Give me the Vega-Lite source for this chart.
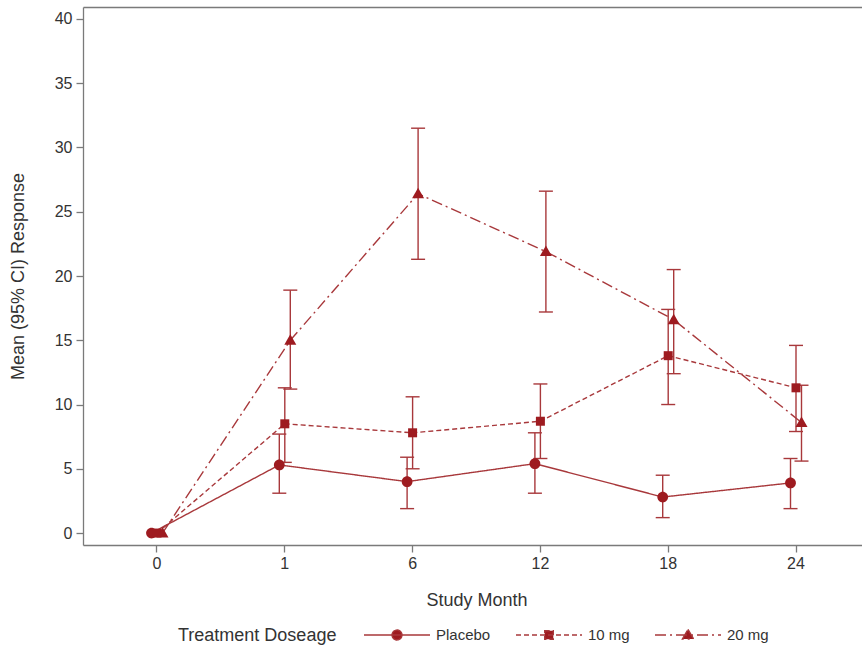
{
  "$schema": "https://vega.github.io/schema/vega-lite/v6.json",
  "width": 779,
  "height": 538,
  "autosize": "none",
  "padding": {"left": 83, "top": 7, "right": 0, "bottom": 102},
  "background": "white",
  "config": {
    "view": {"stroke": null},
    "font": "Liberation Sans",
    "axis": {
      "domainColor": "#7a7a7a",
      "domainWidth": 1.3,
      "tickColor": "#7a7a7a",
      "tickWidth": 1.3,
      "tickSize": 7,
      "labelFontSize": 16,
      "labelColor": "#333333",
      "titleFontSize": 18,
      "titleFontWeight": "normal",
      "titleColor": "#333333",
      "grid": false
    }
  },
  "data": {
    "values": [
      {"month": 0, "group": "Placebo", "mean": 0, "lo": null, "hi": null},
      {"month": 1, "group": "Placebo", "mean": 5.3, "lo": 3.1, "hi": 7.7},
      {"month": 6, "group": "Placebo", "mean": 4.0, "lo": 1.9, "hi": 5.9},
      {"month": 12, "group": "Placebo", "mean": 5.4, "lo": 3.1, "hi": 7.8},
      {"month": 18, "group": "Placebo", "mean": 2.8, "lo": 1.2, "hi": 4.5},
      {"month": 24, "group": "Placebo", "mean": 3.9, "lo": 1.9, "hi": 5.8},
      {"month": 0, "group": "10 mg", "mean": 0, "lo": null, "hi": null},
      {"month": 1, "group": "10 mg", "mean": 8.5, "lo": 5.5, "hi": 11.3},
      {"month": 6, "group": "10 mg", "mean": 7.8, "lo": 5.0, "hi": 10.6},
      {"month": 12, "group": "10 mg", "mean": 8.7, "lo": 5.8, "hi": 11.6},
      {"month": 18, "group": "10 mg", "mean": 13.8, "lo": 10.0, "hi": 17.4},
      {"month": 24, "group": "10 mg", "mean": 11.3, "lo": 7.9, "hi": 14.6},
      {"month": 0, "group": "20 mg", "mean": 0, "lo": null, "hi": null},
      {"month": 1, "group": "20 mg", "mean": 15.0, "lo": 11.2, "hi": 18.9},
      {"month": 6, "group": "20 mg", "mean": 26.4, "lo": 21.3, "hi": 31.5},
      {"month": 12, "group": "20 mg", "mean": 21.9, "lo": 17.2, "hi": 26.6},
      {"month": 18, "group": "20 mg", "mean": 16.6, "lo": 12.4, "hi": 20.5},
      {"month": 24, "group": "20 mg", "mean": 8.6, "lo": 5.6, "hi": 11.5}
    ]
  },
  "layer": [
    {
      "mark": {"type": "line", "strokeWidth": 1.4, "color": "#a8383b"},
      "encoding": {
        "x": {
          "field": "month", "type": "ordinal", "sort": [0, 1, 6, 12, 18, 24],
          "scale": {"type": "band", "range": [0, 787], "paddingInner": 0.914, "paddingOuter": 0.536},
          "axis": {"title": "Study Month", "labelAngle": 0, "labelPadding": 3, "titlePadding": 20}
        },
        "xOffset": {"field": "group", "type": "nominal", "scale": {"type": "point", "padding": 0, "domain": ["Placebo", "10 mg", "20 mg"]}},
        "y": {
          "field": "mean", "type": "quantitative",
          "scale": {"domain": [-0.93, 40.93], "nice": false, "zero": false},
          "axis": {"title": "Mean (95% CI) Response", "values": [0, 5, 10, 15, 20, 25, 30, 35, 40], "labelPadding": 4, "titlePadding": 27}
        },
        "strokeDash": {
          "field": "group", "type": "nominal",
          "scale": {"domain": ["Placebo", "10 mg", "20 mg"], "range": [[1, 0], [5, 3], [11, 4, 2, 4]]},
          "legend": {
            "orient": "none", "legendX": 95, "legendY": 594,
            "direction": "horizontal",
            "title": "Treatment Doseage",
            "titleOrient": "left",
            "titleFontSize": 18, "titleFontWeight": "normal", "titleColor": "#333333", "titlePadding": 26,
            "labelFontSize": 15, "labelColor": "#333333", "labelOffset": 5,
            "columnPadding": 22,
            "symbolSize": 4356,
            "symbolStrokeWidth": 1.4,
            "symbolStrokeColor": "#a8383b",
            "symbolOpacity": 1,
            "encode": {
              "title": {"update": {"dy": {"value": 14}}},
              "symbols": {
                "update": {
                  "shape": {"signal": "datum.value === 'Placebo' ? 'M-1,0L1,0M-0.15,0A0.15,0.15,0,1,1,0.15,0A0.15,0.15,0,1,1,-0.15,0Z' : datum.value === '10 mg' ? 'M-1,0L1,0M-0.13,-0.13L0.13,-0.13L0.13,0.13L-0.13,0.13Z' : 'M-1,0L1,0M0,-0.17L0.17,0.12L-0.17,0.12Z'"},
                  "size": {"value": 4356},
                  "fill": {"value": "#9e1b20"},
                  "fillOpacity": {"value": 1},
                  "stroke": {"value": "#a8383b"},
                  "strokeOpacity": {"value": 1},
                  "strokeWidth": {"value": 1.4},
                  "opacity": {"value": 1}
                }
              }
            }
          }
        }
      }
    },
    {
      "mark": {"type": "rule", "strokeWidth": 1.4, "color": "#a8383b"},
      "encoding": {
        "x": {"field": "month", "type": "ordinal", "sort": [0, 1, 6, 12, 18, 24], "axis": null},
        "xOffset": {"field": "group", "type": "nominal"},
        "y": {"field": "lo", "type": "quantitative", "axis": {"title": "Mean (95% CI) Response", "values": [0, 5, 10, 15, 20, 25, 30, 35, 40], "labelPadding": 4, "titlePadding": 27}},
        "y2": {"field": "hi"}
      }
    },
    {
      "mark": {"type": "point", "shape": "M-1,0L1,0", "size": 196, "filled": false, "strokeWidth": 1.4, "color": "#a8383b", "opacity": 1},
      "encoding": {
        "x": {"field": "month", "type": "ordinal", "sort": [0, 1, 6, 12, 18, 24], "axis": null},
        "xOffset": {"field": "group", "type": "nominal"},
        "y": {"field": "lo", "type": "quantitative", "axis": {"title": "Mean (95% CI) Response", "values": [0, 5, 10, 15, 20, 25, 30, 35, 40], "labelPadding": 4, "titlePadding": 27}}
      }
    },
    {
      "mark": {"type": "point", "shape": "M-1,0L1,0", "size": 196, "filled": false, "strokeWidth": 1.4, "color": "#a8383b", "opacity": 1},
      "encoding": {
        "x": {"field": "month", "type": "ordinal", "sort": [0, 1, 6, 12, 18, 24], "axis": null},
        "xOffset": {"field": "group", "type": "nominal"},
        "y": {"field": "hi", "type": "quantitative", "axis": {"title": "Mean (95% CI) Response", "values": [0, 5, 10, 15, 20, 25, 30, 35, 40], "labelPadding": 4, "titlePadding": 27}}
      }
    },
    {
      "transform": [{"filter": "datum.group === 'Placebo'"}],
      "mark": {"type": "point", "filled": true, "opacity": 1, "color": "#9e1b20", "size": 144, "shape": "M-0.9,0A0.9,0.9,0,1,1,0.9,0A0.9,0.9,0,1,1,-0.9,0Z"},
      "encoding": {
        "x": {"field": "month", "type": "ordinal", "sort": [0, 1, 6, 12, 18, 24], "axis": null},
        "xOffset": {"field": "group", "type": "nominal"},
        "y": {"field": "mean", "type": "quantitative", "axis": {"title": "Mean (95% CI) Response", "values": [0, 5, 10, 15, 20, 25, 30, 35, 40], "labelPadding": 4, "titlePadding": 27}}
      }
    },
    {
      "transform": [{"filter": "datum.group === '10 mg'"}],
      "mark": {"type": "point", "filled": true, "opacity": 1, "color": "#9e1b20", "size": 144, "shape": "M-0.75,-0.75L0.75,-0.75L0.75,0.75L-0.75,0.75Z"},
      "encoding": {
        "x": {"field": "month", "type": "ordinal", "sort": [0, 1, 6, 12, 18, 24], "axis": null},
        "xOffset": {"field": "group", "type": "nominal"},
        "y": {"field": "mean", "type": "quantitative", "axis": {"title": "Mean (95% CI) Response", "values": [0, 5, 10, 15, 20, 25, 30, 35, 40], "labelPadding": 4, "titlePadding": 27}}
      }
    },
    {
      "transform": [{"filter": "datum.group === '20 mg'"}],
      "mark": {"type": "point", "filled": true, "opacity": 1, "color": "#9e1b20", "size": 144, "shape": "M0,-1L1,0.75L-1,0.75Z"},
      "encoding": {
        "x": {
          "field": "month", "type": "ordinal", "sort": [0, 1, 6, 12, 18, 24],
          "axis": {"orient": "top", "labels": false, "ticks": false, "title": null}
        },
        "xOffset": {"field": "group", "type": "nominal"},
        "y": {"field": "mean", "type": "quantitative", "axis": {"title": "Mean (95% CI) Response", "values": [0, 5, 10, 15, 20, 25, 30, 35, 40], "labelPadding": 4, "titlePadding": 27}}
      }
    }
  ],
  "resolve": {"axis": {"x": "independent"}}
}
